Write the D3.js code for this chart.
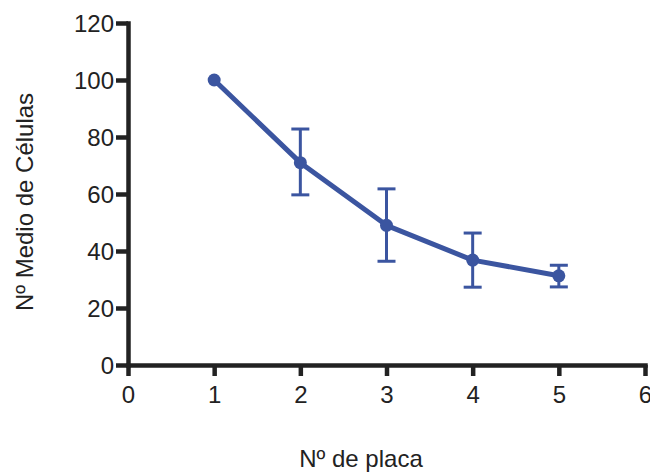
<!DOCTYPE html>
<html lang="es">
<head>
  <meta charset="UTF-8">
  <title>Nº Medio de Células</title>
  <script src="https://d3js.org/d3.v7.min.js"></script>
  <style>
    body { margin: 0; background: #fff; }
    text { font-family: "Liberation Sans", Arial, sans-serif; fill: #222; }
  </style>
</head>
<body>

<div id="chart"></div>

<script>
// Data
const placas = [1, 2, 3, 4, 5];
const medias = [100, 71, 49, 36.8, 31.3];
const errSup = [100, 82.8, 61.8, 46.3, 35.0];
const errInf = [100, 59.7, 36.4, 27.3, 27.4];
const xTicks = [0, 1, 2, 3, 4, 5, 6];
const yTicks = [0, 20, 40, 60, 80, 100, 120];

const width = 650;
const height = 472;
const margin = { left: 128, right: 5, top: 23, bottom: 107 };

const blue = "#3b55a0";
const axisColor = "#222";

const x = d3.scaleLinear().domain([0, 6]).range([margin.left, width - margin.right]);
const y = d3.scaleLinear().domain([0, 120]).range([height - margin.bottom, margin.top]);

const svg = d3.select("#chart")
  .append("svg")
  .attr("width", width)
  .attr("height", height);

// Axes
const xAxis = svg.append("g")
  .attr("transform", `translate(0,${y(0)})`)
  .call(d3.axisBottom(x).tickValues(xTicks).tickFormat(d3.format("d"))
    .tickSize(11).tickPadding(10).tickSizeOuter(0));

const yAxis = svg.append("g")
  .attr("transform", `translate(${x(0)},0)`)
  .call(d3.axisLeft(y).tickValues(yTicks).tickFormat(d3.format("d"))
    .tickSize(12).tickPadding(2).tickSizeOuter(0));

[xAxis, yAxis].forEach(g => {
  g.attr("font-size", null).attr("font-family", null);
  g.select(".domain").attr("stroke", axisColor).attr("stroke-width", 4.5).attr("stroke-linecap", "square");
  g.selectAll(".tick line").attr("stroke", axisColor).attr("stroke-width", 4.5);
  g.selectAll(".tick text")
    .attr("fill", axisColor)
    .style("font-size", "24px");
});
yAxis.selectAll(".tick text").attr("dy", "0.36em");

const rows = placas.map((p, i) => ({ p, m: medias[i], hi: errSup[i], lo: errInf[i] }));

// Error bars
const eb = svg.append("g").attr("stroke", blue).attr("stroke-width", 3);
rows.filter(d => d.hi !== d.lo).forEach(d => {
  eb.append("line").attr("x1", x(d.p)).attr("x2", x(d.p)).attr("y1", y(d.hi)).attr("y2", y(d.lo));
  eb.append("line").attr("x1", x(d.p) - 9).attr("x2", x(d.p) + 9).attr("y1", y(d.hi)).attr("y2", y(d.hi));
  eb.append("line").attr("x1", x(d.p) - 9).attr("x2", x(d.p) + 9).attr("y1", y(d.lo)).attr("y2", y(d.lo));
});

// Line
svg.append("path")
  .datum(rows)
  .attr("fill", "none")
  .attr("stroke", blue)
  .attr("stroke-width", 5)
  .attr("stroke-linejoin", "round")
  .attr("d", d3.line().x(d => x(d.p)).y(d => y(d.m)));

// Points
svg.append("g")
  .selectAll("circle")
  .data(rows)
  .enter()
  .append("circle")
  .attr("cx", d => x(d.p))
  .attr("cy", d => y(d.m))
  .attr("r", 6.5)
  .attr("fill", blue);

// Axis titles
svg.append("text")
  .attr("x", 361)
  .attr("y", 467)
  .attr("text-anchor", "middle")
  .style("font-size", "24px")
  .text("Nº de placa");

svg.append("text")
  .attr("transform", "translate(33,202) rotate(-90)")
  .attr("text-anchor", "middle")
  .style("font-size", "24px")
  .text("Nº Medio de Células");
</script>

</body>
</html>
